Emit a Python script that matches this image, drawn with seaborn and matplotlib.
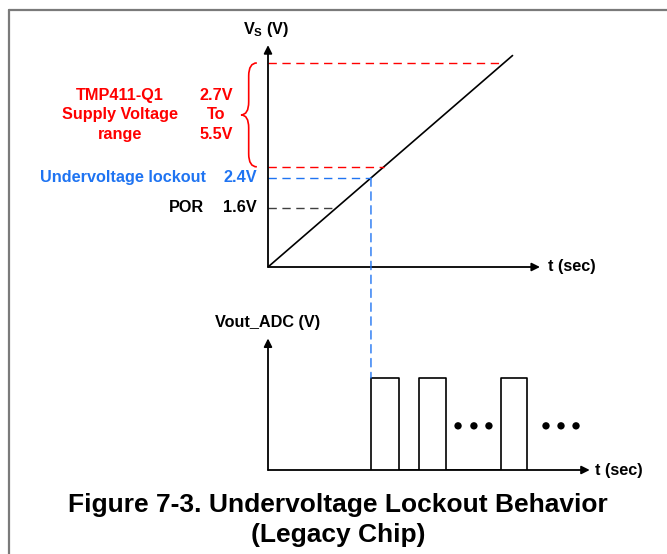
import matplotlib
matplotlib.use("Agg")
import matplotlib.pyplot as plt
from matplotlib.patches import ConnectionPatch, PathPatch
from matplotlib.path import Path
from matplotlib.lines import Line2D
import seaborn as sns

# Supply-voltage thresholds (V)
level_values = [5.5, 2.7, 2.4, 1.6]
level_colors = ["#ff0000", "#ff0000", "#1f74f2", "#404040"]

# Supply ramp V_S(t)
ramp_t = [0.0, 5.7]
ramp_v = [0.0, 5.7]

# ADC output: conversions begin once V_S passes the lockout threshold
uvlo_level = 2.4
pulse_starts = [2.4, 3.52, 5.43]
pulse_ends = [3.05, 4.15, 6.04]
pulse_high = 1.0
ellipsis_t = [4.43, 4.80, 5.15, 6.48, 6.83, 7.18]
ellipsis_level = 0.48

RED = "#ff0000"
BLUE = "#1f74f2"

sns.set_style("white")
plt.rcParams["font.family"] = ["Liberation Sans", "DejaVu Sans"]
plt.rcParams["text.color"] = "black"
plt.rcParams["mathtext.fontset"] = "custom"
plt.rcParams["mathtext.bf"] = "Liberation Sans:bold"
plt.rcParams["mathtext.rm"] = "Liberation Sans"

W, H = 667, 554
PX_T = 42.9    # pixels per time unit
PX_V = 37.1    # pixels per volt (upper panel)
PX_O = 92.0    # pixels per output unit (lower panel)

fig = plt.figure(figsize=(W / 100, H / 100), dpi=100)
fig.patch.set_facecolor("white")

# upper panel: supply voltage
x1max, y1max = 6.5, 6.0
ax1 = fig.add_axes([268 / W, (H - 267) / H, x1max * PX_T / W, y1max * PX_V / H])
ax1.set_xlim(0, x1max)
ax1.set_ylim(0, y1max)
ax1.axis("off")

# lower panel: ADC output
x2max, y2max = 7.6, 1.45
ax2 = fig.add_axes([268 / W, (H - 470) / H, x2max * PX_T / W, y2max * PX_O / H])
ax2.set_xlim(0, x2max)
ax2.set_ylim(0, y2max)
ax2.axis("off")

arrow_kw = dict(arrowstyle="-|>", color="black", lw=1.3, mutation_scale=12,
                shrinkA=0, shrinkB=0)

# axes with arrowheads
ax1.annotate("", xy=(0, 5.98), xytext=(0, 0), arrowprops=arrow_kw, annotation_clip=False)
ax1.annotate("", xy=(6.34, 0), xytext=(0, 0), arrowprops=arrow_kw, annotation_clip=False)
ax2.annotate("", xy=(0, 1.43), xytext=(0, 0), arrowprops=arrow_kw, annotation_clip=False)
ax2.annotate("", xy=(7.5, 0), xytext=(0, 0), arrowprops=arrow_kw, annotation_clip=False)

# supply ramp
sns.lineplot(x=ramp_t, y=ramp_v, ax=ax1, color="black", lw=1.2,
             estimator=None, sort=False, legend=False)

# threshold guides running out to the ramp
dash = (0, (6, 4))
for v, c in zip(level_values, level_colors):
    ax1.plot([0, v], [v, v], color=c, lw=1.0, linestyle=dash, clip_on=False)

# drop line from the lockout crossing to the first conversion
con = ConnectionPatch(xyA=(uvlo_level, uvlo_level), coordsA=ax1.transData,
                      xyB=(pulse_starts[0], pulse_high), coordsB=ax2.transData,
                      color=BLUE, lw=1.0, linestyle=dash)
fig.add_artist(con)

# pulse train
wave_t, wave_v = [], []
for s, e in zip(pulse_starts, pulse_ends):
    wave_t += [s, s, e, e]
    wave_v += [0, pulse_high, pulse_high, 0]
sns.lineplot(x=wave_t, y=wave_v, ax=ax2, color="black", lw=1.2,
             estimator=None, sort=False, legend=False)
sns.scatterplot(x=ellipsis_t, y=[ellipsis_level] * len(ellipsis_t), ax=ax2,
                color="black", s=28, edgecolor="none", legend=False)

# curly brace marking the supply range
x0, xm, xt = -0.26, -0.45, -0.63
yt, yb = level_values[0], level_values[1]
ym = (yt + yb) / 2
q = 0.35
verts = [(x0, yt), (xm, yt), (xm, yt - q),
         (xm, ym + q),
         (xm, ym), (xt, ym),
         (xm, ym), (xm, ym - q),
         (xm, yb + q),
         (xm, yb), (x0, yb)]
codes = [Path.MOVETO, Path.CURVE3, Path.CURVE3,
         Path.LINETO,
         Path.CURVE3, Path.CURVE3,
         Path.CURVE3, Path.CURVE3,
         Path.LINETO,
         Path.CURVE3, Path.CURVE3]
ax1.add_patch(PathPatch(Path(verts, codes), facecolor="none", edgecolor=RED,
                        lw=1.2, clip_on=False))

tkw = dict(fontsize=11.7, fontweight="bold", va="center", clip_on=False)
ax1.text(-1.21, ym, "2.7V\nTo\n5.5V", color=RED, ha="center", linespacing=1.38, **tkw)
ax1.text(-3.45, ym, "TMP411-Q1\nSupply Voltage\nrange", color=RED, ha="center",
         linespacing=1.38, **tkw)
ax1.text(-1.445, level_values[2], "Undervoltage lockout", color=BLUE, ha="right", **tkw)
ax1.text(-0.256, level_values[2], "2.4V", color=BLUE, ha="right", **tkw)
ax1.text(-1.49, level_values[3], "POR", color="black", ha="right", **tkw)
ax1.text(-0.256, level_values[3], "1.6V", color="black", ha="right", **tkw)

# axis labels
ax1.text(-0.05, 6.41, r"$\mathbf{V_S}$ (V)", ha="center", color="black", **tkw)
ax1.text(6.53, 0, "t (sec)", ha="left", color="black", **tkw)
ax2.text(-1.235, 1.6, "Vout_ADC (V)", ha="left", color="black", **tkw)
ax2.text(7.62, 0, "t (sec)", ha="left", color="black", **tkw)

# caption
fig.text(338 / W, 1 - 520 / H, "Figure 7-3. Undervoltage Lockout Behavior\n(Legacy Chip)",
         ha="center", va="center", fontsize=19, fontweight="bold", linespacing=1.27,
         color="black")

# frame along the left and top edges
fx, fy = 8.5 / W, 1 - 9.5 / H
fig.add_artist(Line2D([fx, fx], [0, fy], transform=fig.transFigure, color="#7a7a7a", lw=1.6))
fig.add_artist(Line2D([fx, 1], [fy, fy], transform=fig.transFigure, color="#7a7a7a", lw=1.6))

fig.savefig("out.png", dpi=100)
